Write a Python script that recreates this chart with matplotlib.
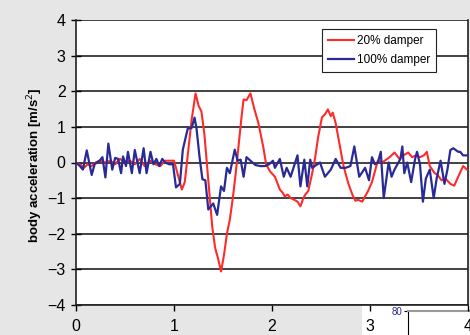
import matplotlib.pyplot as plt
from matplotlib.patches import Rectangle

plt.rcParams['font.family'] = ['Liberation Sans', 'DejaVu Sans']

# body acceleration with 20% damper (time in s, acceleration in m/s^2)
t_20 = [0.0, 0.04, 0.08, 0.12, 0.16, 0.20, 0.24, 0.30, 0.35, 0.40, 0.45,
        0.50, 0.55, 0.60, 0.65, 0.70, 0.76, 0.81, 0.86, 0.91, 0.96, 1.00,
        1.04, 1.08, 1.11, 1.14, 1.18, 1.22, 1.25, 1.28, 1.31, 1.35, 1.39,
        1.42, 1.45, 1.48, 1.51, 1.54, 1.57, 1.60, 1.63, 1.66, 1.69, 1.71,
        1.74, 1.78, 1.82, 1.86, 1.91, 1.94, 1.98, 2.03, 2.08, 2.11, 2.13,
        2.16, 2.19, 2.23, 2.26, 2.29, 2.32, 2.34, 2.37, 2.41, 2.44, 2.47,
        2.51, 2.54, 2.57, 2.60, 2.62, 2.65, 2.67, 2.73, 2.78, 2.82, 2.85,
        2.88, 2.92, 2.95, 2.98, 3.02, 3.05, 3.08, 3.12, 3.15, 3.20, 3.25,
        3.30, 3.34, 3.39, 3.43, 3.47, 3.51, 3.55, 3.58, 3.61, 3.66, 3.69,
        3.73, 3.77, 3.82, 3.86, 3.90, 3.95, 3.99]
acc_20 = [0.0, -0.05, -0.15, -0.05, -0.1, 0.0, 0.05, 0.0, 0.05, -0.05, 0.1,
          0.0, 0.05, -0.05, 0.1, -0.1, 0.05, -0.05, -0.1, 0.05, 0.05, 0.05,
          -0.35, -0.76, -0.55, 0.2, 1.2, 1.94, 1.6, 1.43, 0.8, -0.5, -1.8,
          -2.4, -2.7, -3.06, -2.6, -2.0, -1.6, -1.0, -0.3, 0.5, 1.3, 1.77,
          1.75, 1.94, 1.5, 1.12, 0.45, -0.05, -0.25, -0.4, -0.76, -0.85, -0.95,
          -0.9, -1.0, -1.05, -1.1, -1.23, -1.0, -0.9, -0.8, -0.3, 0.13, 0.7,
          1.27, 1.35, 1.49, 1.3, 1.4, 1.1, 0.8, -0.1, -0.6, -0.9, -1.07,
          -1.05, -1.1, -0.95, -0.8, -0.55, -0.25, 0.05, 0.0, 0.05, 0.15, 0.28,
          0.1, 0.2, 0.28, 0.15, 0.2, 0.15, 0.2, 0.3, -0.1, -0.3, -0.35,
          -0.5, -0.45, -0.6, -0.65, -0.4, -0.1, -0.2]

# body acceleration with 100% damper
t_100 = [0.0, 0.04, 0.07, 0.11, 0.16, 0.19, 0.24, 0.27, 0.30, 0.33, 0.37,
         0.40, 0.43, 0.46, 0.48, 0.51, 0.53, 0.57, 0.60, 0.65, 0.69, 0.72,
         0.76, 0.79, 0.82, 0.85, 0.88, 0.91, 0.95, 0.99, 1.02, 1.06, 1.09,
         1.14, 1.18, 1.21, 1.23, 1.26, 1.29, 1.32, 1.35, 1.40, 1.44, 1.48,
         1.51, 1.54, 1.57, 1.62, 1.65, 1.68, 1.71, 1.74, 1.78, 1.83, 1.88,
         1.93, 1.97, 2.01, 2.03, 2.08, 2.12, 2.15, 2.19, 2.26, 2.29, 2.33,
         2.36, 2.39, 2.41, 2.49, 2.54, 2.60, 2.65, 2.70, 2.75, 2.80, 2.84,
         2.89, 2.95, 2.99, 3.02, 3.05, 3.08, 3.11, 3.14, 3.19, 3.22, 3.25,
         3.31, 3.33, 3.35, 3.38, 3.42, 3.46, 3.48, 3.51, 3.54, 3.57, 3.61,
         3.65, 3.68, 3.72, 3.76, 3.79, 3.82, 3.85, 3.90, 3.92, 3.95, 3.99]
acc_100 = [0.0, -0.1, -0.2, 0.34, -0.35, -0.05, 0.05, 0.15, -0.42, 0.53, -0.2,
           0.13, 0.1, -0.3, 0.17, -0.1, 0.3, -0.3, 0.35, -0.3, 0.4, -0.3,
           0.3, -0.05, 0.1, -0.1, 0.1, 0.0, -0.05, -0.05, -0.7, -0.6, 0.36,
           0.95, 0.97, 1.26, 0.95, 0.17, -0.47, -0.5, -1.32, -1.15, -1.47, -0.67,
           -0.8, -0.15, -0.3, 0.36, 0.05, 0.08, -0.4, 0.15, 0.05, -0.07, -0.1,
           -0.1, -0.05, 0.05, -0.15, 0.1, -0.4, -0.15, -0.4, 0.2, -0.67, 0.08,
           -0.67, 0.08, -0.15, 0.0, -0.4, -0.2, 0.1, -0.15, -0.15, -0.1, 0.45,
           -0.4, -0.15, -0.5, 0.15, -0.05, 0.0, 0.3, -1.0, 0.0, -0.4, -0.2,
           0.1, 0.45, -0.3, 0.0, -0.55, 0.1, 0.3, -0.05, -1.1, -0.45, -0.2,
           -1.0, -0.45, 0.05, -0.6, -0.2, 0.35, 0.4, 0.3, 0.3, 0.2, 0.2]

fig = plt.figure(figsize=(4.70, 3.35), dpi=100, facecolor='#e6e6e6')

# white paper strip under the lower right corner, kept behind the axes
fig.patches.append(Rectangle((362 / 470, 0), 108 / 470, 30 / 335,
                             transform=fig.transFigure, facecolor='white',
                             edgecolor='none', zorder=-5))

# corner of the neighbouring chart below, drawn first so tick labels sit on top
ax2 = fig.add_axes([408 / 470, 0, 70 / 470, 24 / 335], zorder=-1)
ax2.patch.set_visible(False)
ax2.set_ylim(0, 80)
ax2.set_yticks([80])
ax2.set_yticklabels(['80'], fontsize=7, color='#2a2a96')
ax2.set_xticks([])
ax2.spines['top'].set_color('#999999')
ax2.spines['top'].set_linewidth(1.5)
ax2.spines['right'].set_visible(False)
ax2.spines['bottom'].set_visible(False)
ax2.tick_params(axis='y', length=3, pad=1)

ax = fig.add_axes([76 / 470, 30 / 335, 392 / 470, 285 / 335])
ax.set_facecolor('white')

ax.plot(t_20[:len(acc_20)], acc_20, color='#ff2a2a', lw=1.5, label='20% damper', zorder=3)
ax.plot(t_100[:len(acc_100)], acc_100, color='#2a2a96', lw=1.6, label='100% damper', zorder=4)

ax.set_xlim(0, 4)
ax.set_ylim(-4, 4)
ax.set_xticks([0, 1, 2, 3, 4])
ax.set_yticks(range(-4, 5))
ax.yaxis.grid(True, color='#333333', lw=1.3)
ax.set_axisbelow(True)
for side in ['left', 'right', 'bottom']:
    ax.spines[side].set_color('#222222')
    ax.spines[side].set_linewidth(1.2)
ax.spines['top'].set_visible(False)
ax.tick_params(axis='y', direction='inout', length=7, width=1.0, pad=4, labelsize=11.5)
ax.tick_params(axis='x', direction='out', length=4, width=1.0, pad=6, labelsize=11.5)

ax.set_ylabel('body acceleration [m/s$^2$]', fontsize=9.5, fontweight='bold')
ax.yaxis.set_label_coords(-0.079, 0.49)

leg = ax.legend(loc='upper right', bbox_to_anchor=(0.918, 0.968), fontsize=8.5,
                frameon=True, fancybox=False, handlelength=2.2, handletextpad=0.2,
                borderpad=0.5, labelspacing=0.6, borderaxespad=0)
leg.get_frame().set_edgecolor('#222222')
leg.get_frame().set_linewidth(0.8)
leg.get_frame().set_facecolor('white')
leg.get_frame().set_alpha(1)

fig.savefig('out.png', dpi=100)
